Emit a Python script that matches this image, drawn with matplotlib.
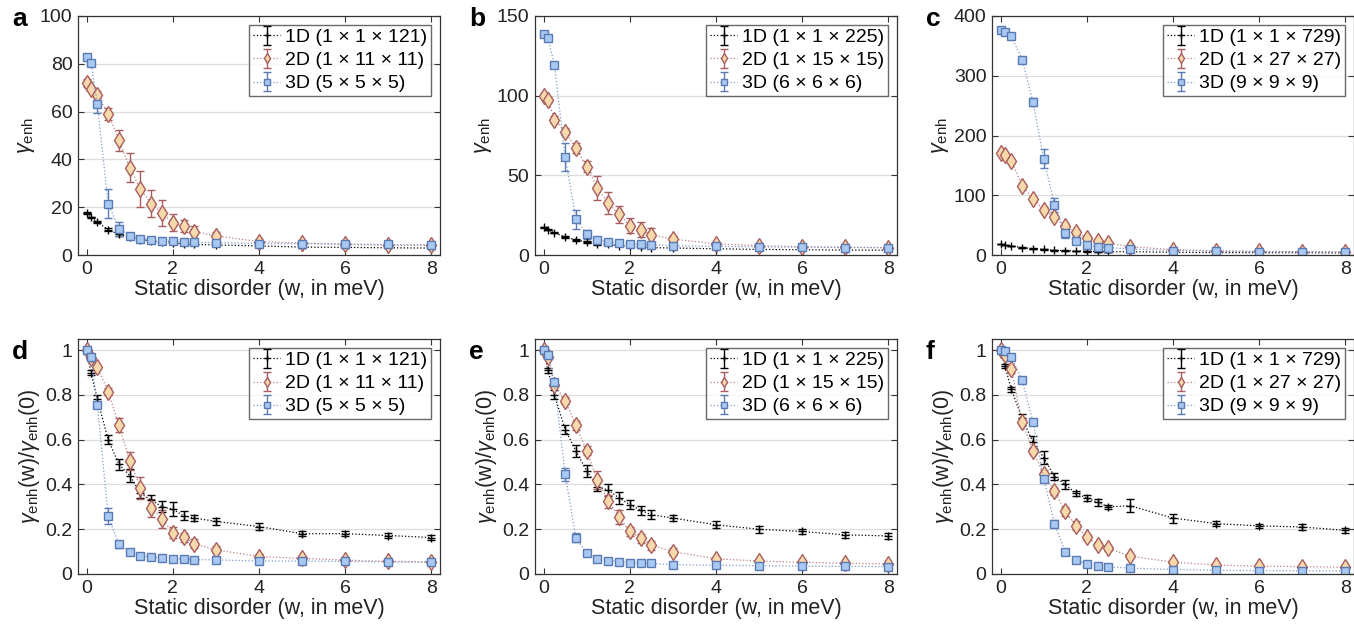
import numpy as np
import matplotlib
matplotlib.use('Agg')
from matplotlib import pyplot as plt

plt.rcParams['font.family'] = ['Liberation Sans', 'DejaVu Sans']
plt.rcParams['mathtext.fontset'] = 'custom'
plt.rcParams['mathtext.rm'] = 'Liberation Sans'
plt.rcParams['mathtext.it'] = 'Liberation Sans:italic'

# disorder values (meV)
w = [0, 0.1, 0.25, 0.5, 0.75, 1, 1.25, 1.5, 1.75, 2, 2.25, 2.5, 3, 4, 5, 6, 7, 8]

## panel a: 1D 121, 2D 11x11, 3D 5x5x5
a_1d = [17.5, 15.8, 13.7, 10.6, 8.6, 7.7, 6.4, 5.9, 5.3, 5.1, 4.6, 4.4, 4.2, 3.8, 3.3, 3.2, 3.0, 2.9]
a_1d_err = [0.3, 0.3, 0.4, 0.5, 0.5, 0.6, 0.4, 0.5, 0.5, 0.5, 0.4, 0.3, 0.3, 0.3, 0.2, 0.2, 0.2, 0.2]
a_2d = [72, 69.5, 67, 59, 48, 36.5, 27.5, 21.5, 17.5, 13.5, 12, 9.8, 8, 5.6, 5.0, 4.5, 4.0, 4.0]
a_2d_err = [1.5, 1, 1.5, 2.5, 4.5, 6, 7.5, 5.5, 5.5, 3.5, 2.5, 2.5, 1.8, 1, 0.8, 0.6, 0.6, 0.5]
a_3d = [83, 80.5, 63, 21.5, 11, 8.1, 6.8, 6.4, 5.9, 5.7, 5.4, 5.3, 5.2, 4.8, 4.7, 4.6, 4.4, 4.3]
a_3d_err = [1, 1, 3.5, 6, 3, 1.2, 0.8, 0.6, 0.5, 0.5, 0.4, 0.4, 0.4, 0.3, 0.3, 0.3, 0.3, 0.3]

## panel b: 1D 225, 2D 15x15, 3D 6x6x6
b_1d = [17.5, 15.9, 14.0, 11.3, 9.6, 8.0, 6.8, 6.6, 5.9, 5.4, 5.0, 4.6, 4.4, 3.9, 3.5, 3.3, 3.1, 3.0]
b_1d_err = [0.3, 0.3, 0.4, 0.4, 0.5, 0.5, 0.4, 0.5, 0.5, 0.4, 0.4, 0.4, 0.3, 0.3, 0.3, 0.2, 0.2, 0.2]
b_2d = [100, 97.5, 85, 77.5, 67, 55.5, 42, 32.5, 25.5, 18.5, 16, 12.5, 10, 7, 5.8, 5.2, 4.9, 4.6]
b_2d_err = [1.5, 1.5, 2, 2, 3, 3.5, 7.5, 7, 5.5, 4.5, 4.5, 4.5, 2, 1, 0.8, 0.7, 0.6, 0.6]
b_3d = [138.5, 136.5, 119.5, 61.5, 22.5, 13, 9.5, 8.3, 7.6, 6.9, 6.6, 6.5, 5.8, 5.4, 5.1, 4.9, 4.7, 4.6]
b_3d_err = [1, 1, 1, 9, 6, 3, 1.5, 1, 0.8, 0.7, 0.6, 0.5, 0.5, 0.4, 0.4, 0.4, 0.4, 0.4]

## panel c: 1D 729, 2D 27x27, 3D 9x9x9
c_1d = [18, 16.7, 14.9, 12.5, 10.6, 9.4, 7.8, 7.2, 6.5, 6.1, 5.8, 5.4, 5.5, 4.5, 4.05, 3.9, 3.8, 3.5]
c_1d_err = [0.1, 0.15, 0.2, 0.35, 0.45, 0.55, 0.3, 0.35, 0.2, 0.3, 0.3, 0.2, 0.5, 0.35, 0.2, 0.15, 0.25, 0.2]
c_2d = [171, 168, 157, 116, 94, 76, 63, 48, 38, 29, 23, 20, 14, 9, 7, 6, 5.6, 5.1]
c_2d_err = [2, 2, 3, 3, 3, 3.5, 3, 4, 4, 3, 2.5, 2, 1.5, 1, 0.8, 0.6, 0.5, 0.5]
c_3d = [376, 374, 366, 327, 256, 161, 84, 37, 24, 16, 13.5, 12.5, 10, 7.5, 6.4, 5.6, 5.3, 4.9]
c_3d_err = [3, 3, 3, 3, 7, 16, 12, 8, 6, 4, 3, 2, 1.5, 1, 0.8, 0.6, 0.5, 0.5]

## panel d: normalised, same systems as a
d_1d = [1, 0.9, 0.78, 0.6, 0.49, 0.44, 0.36, 0.33, 0.30, 0.29, 0.26, 0.25, 0.235, 0.212, 0.18, 0.18, 0.172, 0.163]
d_1d_err = [0.01, 0.012, 0.02, 0.02, 0.025, 0.03, 0.02, 0.025, 0.025, 0.03, 0.02, 0.015, 0.015, 0.015, 0.012, 0.012, 0.012, 0.012]
d_2d = [1, 0.965, 0.925, 0.815, 0.665, 0.505, 0.385, 0.295, 0.245, 0.185, 0.165, 0.135, 0.108, 0.078, 0.07, 0.062, 0.056, 0.055]
d_2d_err = [0.01, 0.01, 0.01, 0.015, 0.03, 0.04, 0.05, 0.04, 0.04, 0.025, 0.02, 0.02, 0.015, 0.01, 0.01, 0.008, 0.008, 0.008]
d_3d = [1, 0.97, 0.755, 0.258, 0.132, 0.098, 0.081, 0.077, 0.071, 0.069, 0.066, 0.064, 0.063, 0.058, 0.058, 0.056, 0.054, 0.052]
d_3d_err = [0.005, 0.008, 0.015, 0.035, 0.015, 0.008, 0.006, 0.006, 0.005, 0.005, 0.005, 0.005, 0.005, 0.005, 0.005, 0.004, 0.004, 0.004]

## panel e
e_1d = [1, 0.91, 0.80, 0.645, 0.55, 0.46, 0.39, 0.375, 0.34, 0.31, 0.285, 0.265, 0.25, 0.22, 0.20, 0.19, 0.175, 0.17]
e_1d_err = [0.01, 0.01, 0.02, 0.02, 0.025, 0.025, 0.02, 0.025, 0.025, 0.02, 0.02, 0.02, 0.015, 0.015, 0.015, 0.01, 0.012, 0.012]
e_2d = [1, 0.97, 0.845, 0.775, 0.665, 0.55, 0.42, 0.325, 0.255, 0.19, 0.16, 0.128, 0.1, 0.068, 0.058, 0.052, 0.048, 0.045]
e_2d_err = [0.01, 0.01, 0.01, 0.015, 0.02, 0.02, 0.04, 0.03, 0.03, 0.02, 0.02, 0.02, 0.015, 0.01, 0.008, 0.008, 0.006, 0.006]
e_3d = [1, 0.98, 0.86, 0.445, 0.162, 0.093, 0.068, 0.06, 0.055, 0.05, 0.048, 0.047, 0.042, 0.039, 0.037, 0.035, 0.034, 0.033]
e_3d_err = [0.005, 0.008, 0.01, 0.03, 0.02, 0.01, 0.008, 0.006, 0.005, 0.005, 0.005, 0.005, 0.004, 0.004, 0.004, 0.004, 0.004, 0.004]

## panel f
f_1d = [1, 0.93, 0.825, 0.695, 0.59, 0.52, 0.435, 0.40, 0.36, 0.34, 0.32, 0.30, 0.305, 0.25, 0.225, 0.215, 0.21, 0.195]
f_1d_err = [0.005, 0.008, 0.012, 0.02, 0.025, 0.03, 0.015, 0.02, 0.01, 0.015, 0.015, 0.01, 0.03, 0.02, 0.01, 0.008, 0.015, 0.012]
f_2d = [1, 0.98, 0.915, 0.68, 0.55, 0.445, 0.37, 0.28, 0.215, 0.165, 0.13, 0.115, 0.08, 0.053, 0.04, 0.035, 0.033, 0.03]
f_2d_err = [0.01, 0.01, 0.015, 0.015, 0.015, 0.02, 0.015, 0.02, 0.02, 0.015, 0.012, 0.01, 0.01, 0.01, 0.008, 0.006, 0.006, 0.006]
f_3d = [1, 0.995, 0.97, 0.865, 0.68, 0.425, 0.225, 0.097, 0.064, 0.043, 0.036, 0.033, 0.026, 0.02, 0.017, 0.015, 0.014, 0.013]
f_3d_err = [0.005, 0.005, 0.008, 0.01, 0.01, 0.015, 0.015, 0.01, 0.008, 0.006, 0.005, 0.005, 0.004, 0.004, 0.004, 0.004, 0.004, 0.004]

labels_a = ['1D (1 × 1 × 121)', '2D (1 × 11 × 11)', '3D (5 × 5 × 5)']
labels_b = ['1D (1 × 1 × 225)', '2D (1 × 15 × 15)', '3D (6 × 6 × 6)']
labels_c = ['1D (1 × 1 × 729)', '2D (1 × 27 × 27)', '3D (9 × 9 × 9)']

norm_ticks = [0, 0.2, 0.4, 0.6, 0.8, 1]
panels = [
    ('a', [a_1d, a_2d, a_3d], [a_1d_err, a_2d_err, a_3d_err], labels_a, (0, 100), [0, 20, 40, 60, 80, 100]),
    ('b', [b_1d, b_2d, b_3d], [b_1d_err, b_2d_err, b_3d_err], labels_b, (0, 150), [0, 50, 100, 150]),
    ('c', [c_1d, c_2d, c_3d], [c_1d_err, c_2d_err, c_3d_err], labels_c, (0, 400), [0, 100, 200, 300, 400]),
    ('d', [d_1d, d_2d, d_3d], [d_1d_err, d_2d_err, d_3d_err], labels_a, (0, 1.05), norm_ticks),
    ('e', [e_1d, e_2d, e_3d], [e_1d_err, e_2d_err, e_3d_err], labels_b, (0, 1.05), norm_ticks),
    ('f', [f_1d, f_2d, f_3d], [f_1d_err, f_2d_err, f_3d_err], labels_c, (0, 1.05), norm_ticks),
]

styles = [
    dict(marker='+', ms=6, mfc='k', mec='k', color='k', ecolor='k'),
    dict(marker='d', ms=8, mfc='#f8d9ab', mec='#a85e5e', color='#c08080', ecolor='#a85e5e'),
    dict(marker='s', ms=5.5, mfc='#a9c9f2', mec='#5a7ab4', color='#7f9acb', ecolor='#5a7ab4'),
]

fig = plt.figure(figsize=(13.54, 6.33), dpi=100)
W, H = 1354, 633
lefts = [78, 535, 992]
aw = 362
rows = [(16, 239, 10), (339, 235, 20)]  # top, height, letter baseline offset (px)

for k, (letter, ys, errs, labs, ylim, yticks) in enumerate(panels):
    row, col = divmod(k, 3)
    l = lefts[col]
    t, ah, lb = rows[row]
    ax = fig.add_axes([l / W, 1 - (t + ah) / H, aw / W, ah / H])
    for y, e, lab, st in zip(ys, errs, labs, styles):
        ax.errorbar(w, y, yerr=e, ls=':', lw=0.9, capsize=3, elinewidth=1.0,
                    capthick=1.0, label=lab, **st)
    ax.set_xlim(-0.2, 8.2)
    ax.set_ylim(*ylim)
    ax.set_xticks([0, 2, 4, 6, 8])
    ax.set_yticks(yticks)
    ax.set_yticklabels([f'{v:g}' for v in yticks])
    ax.tick_params(direction='in', top=True, right=True, labelsize=14,
                   length=4, color='#333333', labelcolor='#222222', pad=4)
    ax.grid(axis='y', color='#dddddd', lw=0.9)
    ax.set_axisbelow(True)
    for s in ax.spines.values():
        s.set_color('#333333')
        s.set_linewidth(0.9)
    ax.set_xlabel('Static disorder (w, in meV)', fontsize=15.5, color='#222222', labelpad=1)
    if row == 0:
        ax.set_ylabel(r'$\gamma_{\rm enh}$', fontsize=15.5, color='#222222', labelpad=2)
    else:
        ax.set_ylabel(r'$\gamma_{\rm enh}$(w)/$\gamma_{\rm enh}$(0)', fontsize=15.5,
                      color='#222222', labelpad=2)
    leg = ax.legend(loc='upper right', fontsize=14, frameon=True, fancybox=False,
                    borderpad=0.2, handlelength=1.4, handletextpad=0.25,
                    labelspacing=0.28, borderaxespad=0.45, markerscale=0.7)
    leg.get_frame().set_edgecolor('#444444')
    leg.get_frame().set_linewidth(1.0)
    ax.text(-66 / aw, 1 - lb / ah, letter, transform=ax.transAxes, fontsize=19,
            fontweight='bold', ha='left', va='baseline')

fig.savefig('out.png', dpi=100)
